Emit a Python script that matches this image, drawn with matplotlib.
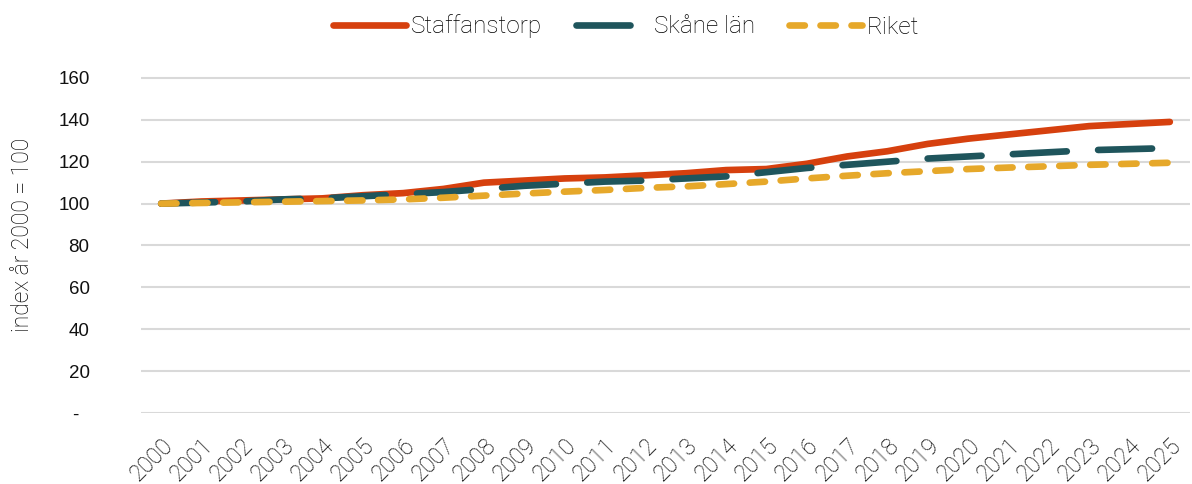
import matplotlib
matplotlib.use("Agg")
import matplotlib.pyplot as plt
import matplotlib.transforms as mtransforms
from matplotlib.ticker import FixedLocator, FuncFormatter

years = [str(y) for y in range(2000, 2026)]
staffanstorp = [100, 101, 101.5, 102, 102.5, 104, 105, 107, 110, 111, 112, 112.5, 113.5,
                114.5, 116, 116.5, 119, 122.5, 125, 128.5, 131, 133, 135, 137, 138, 139]
skane = [100, 100.5, 101, 102, 102.5, 103.5, 104.5, 105.5, 107, 108.5, 109.5, 110.5, 111,
         112, 113, 115, 117, 118.5, 120, 121.5, 122.5, 123.5, 124.5, 125.5, 126, 126.5]
riket = [100, 100.3, 100.6, 100.9, 101.2, 101.5, 102, 102.8, 103.8, 104.8, 105.7, 106.5,
         107.5, 108.2, 109.3, 110.5, 112, 113.3, 114.5, 115.5, 116.5, 117.2, 117.8, 118.5,
         119, 119.5]
yticks = [0, 20, 40, 60, 80, 100, 120, 140, 160]

thin = "Roboto"
tw = "light"
txtc = "#000000"
fig = plt.figure(figsize=(11.92, 4.84), dpi=100)
ax = fig.add_axes([141/1192, 1 - 413/484, 1049/1192, (413-57)/484])

x = list(range(len(years)))
lw = 4.8
ax.plot(x, staffanstorp, color="#D6400E", lw=lw, solid_capstyle="round", label="Staffanstorp", zorder=3)
ax.plot(x, skane, color="#1F555C", lw=lw, dash_capstyle="round", dashes=(8.1, 4.7), label="Skåne län", zorder=4)
ax.plot(x, riket, color="#E6A82A", lw=lw, dash_capstyle="round", dashes=(2.3, 2.35), label="Riket", zorder=5)

ax.set_xlim(-0.5, len(years) - 0.5)
ax.set_ylim(0, 170)
ax.yaxis.set_major_locator(FixedLocator(yticks))
ax.yaxis.set_major_formatter(FuncFormatter(lambda v, p: "-  " if v == 0 else f"{int(v)}"))
ax.set_xticks(x)
ax.set_xticklabels(years, rotation=45, ha="right", rotation_mode="anchor",
                   fontfamily=thin, fontweight=tw, fontsize=16.5, color=txtc)
offset = mtransforms.ScaledTranslation(-15/100, -3/100, fig.dpi_scale_trans)
for lab in ax.get_xticklabels():
    lab.set_transform(lab.get_transform() + offset)
for lab in ax.get_yticklabels():
    lab.set_fontfamily("Liberation Sans")
    lab.set_fontsize(13.5)
    lab.set_color("#111111")
ax.grid(axis="y", color="#D9D9D9", lw=1.5)
ax.set_axisbelow(True)
for s in ax.spines.values():
    s.set_visible(False)
ax.tick_params(axis="both", length=0)
ax.tick_params(axis="y", pad=37)
ax.tick_params(axis="x", pad=15)
ax.set_ylabel("index år 2000 = 100", fontfamily=thin, fontweight=tw, fontsize=16.5, color=txtc)
ax.yaxis.set_label_coords(-107/1049, 0.5)

leg = fig.legend(loc="upper center", bbox_to_anchor=(0.525, 1.015), ncol=3, frameon=False,
                 prop={"family": thin, "weight": tw, "size": 17.5}, labelcolor=txtc,
                 handlelength=3.0, columnspacing=1.4, handletextpad=0.2)
fig.savefig("out.png", dpi=100)
